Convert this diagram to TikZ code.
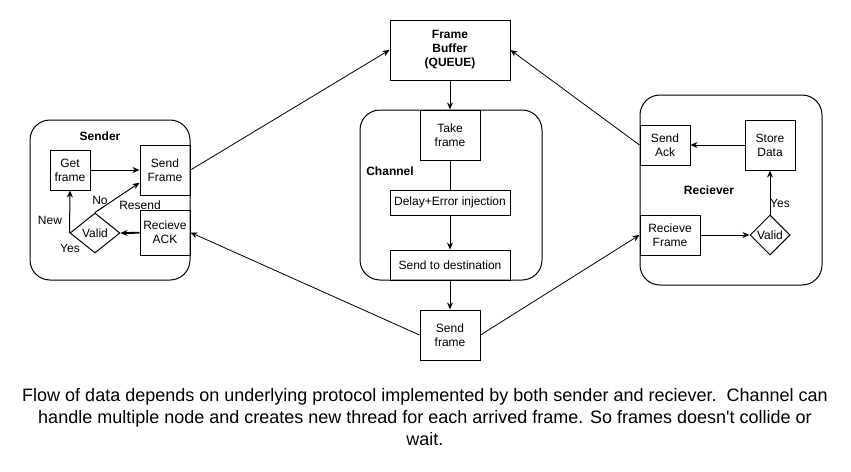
\documentclass[tikz,border=0pt]{standalone}
\usepackage{fontspec}
\setmainfont{Liberation Sans}
\usetikzlibrary{arrows.meta, calc, shapes.geometric}

\tikzset{
  box/.style={draw, line width=1pt, inner sep=0pt, align=center, font=\fontsize{12}{14}\selectfont},
  holder/.style={draw, line width=1pt, rounded corners=20pt, inner sep=0pt},
  decide/.style={draw, diamond, line width=1pt, inner sep=0pt, minimum width=#1, minimum height=40pt, font=\fontsize{12}{14}\selectfont},
  lbl/.style={inner sep=0pt, font=\fontsize{12}{14}\selectfont},
  head/.style={inner sep=0pt, align=center, font=\fontsize{12}{14}\selectfont\bfseries},
  flow/.style={line width=1pt, -{Stealth[length=7pt,width=6pt]}}
}

\begin{document}
\begin{tikzpicture}[x=1pt, y=-1pt]
  \useasboundingbox (0,0) rectangle (851,471);

  % containers
  \node [holder, minimum width=160pt, minimum height=160pt] (senderbox) at (110,200) {};
  \node [holder, minimum width=182pt, minimum height=170pt] (chanbox) at (451,195) {};
  \node [holder, minimum width=182pt, minimum height=190pt] (recvbox) at (731,190) {};

  \node [head] (sendertitle) at (100,136) {Sender};
  \node [head] (chantitle) at (390,171) {Channel};
  \node [head] (recvtitle) at (709,190) {Reciever};

  % sender side
  \node [box, minimum width=40pt, minimum height=40pt] (getframe) at (70,170) {Get\\frame};
  \node [box, minimum width=50pt, minimum height=50pt] (sendframe) at (165,170) {Send\\Frame};
  \node [box, minimum width=50pt, minimum height=45pt] (recvack) at (165,232.5) {Recieve\\ACK};
  \node [decide=50pt] (svalid) at (95,233) {Valid};

  % buffer and channel
  \node [box, minimum width=120pt, minimum height=60pt, font=\fontsize{12}{14}\selectfont\bfseries] (buffer) at (450,50) {Frame\\Buffer\\(QUEUE)};
  \node [box, minimum width=60pt, minimum height=50pt] (takeframe) at (450,135) {Take\\frame};
  \node [box, minimum width=120pt, minimum height=25pt] (delay) at (450,202.5) {Delay+Error injection};
  \node [box, minimum width=120pt, minimum height=30pt] (dest) at (450,265) {Send to destination};
  \node [box, minimum width=60pt, minimum height=50pt] (sendout) at (450,335) {Send\\frame};

  % receiver side
  \node [box, minimum width=50pt, minimum height=40pt] (sendack) at (665,145) {Send\\Ack};
  \node [box, minimum width=50pt, minimum height=50pt] (store) at (770,145) {Store\\Data};
  \node [box, minimum width=60pt, minimum height=40pt] (recvframe) at (670,235) {Recieve\\Frame};
  \node [decide=40pt] (rvalid) at (770,235) {Valid};

  % edge labels
  \node [lbl] (nolbl) at (100,200) {No};
  \node [lbl] (resendlbl) at (140,205) {Resend};
  \node [lbl] (newlbl) at (50,220) {New};
  \node [lbl] (syeslbl) at (70,248) {Yes};
  \node [lbl] (ryeslbl) at (780,203) {Yes};

  % sender arrows
  \draw [flow] (getframe) -- (sendframe);
  \draw [flow] (svalid.west) -- (getframe.south);
  \draw [flow] (svalid.north) -- ($(sendframe.south west)!0.25!(sendframe.north west)$);
  \draw [flow, line width=1.8pt] (recvack) -- (svalid.east);

  % channel arrows
  \draw [flow] (buffer) -- (takeframe);
  \draw [line width=1pt] (takeframe) -- (delay);
  \draw [flow] (delay) -- (dest);
  \draw [flow] (dest) -- (sendout);

  % receiver arrows
  \draw [flow] (store) -- (sendack);
  \draw [flow] (recvframe) -- (rvalid.west);
  \draw [flow] (rvalid.north) -- (store);

  % between the parts
  \draw [flow, line width=0.8pt] (sendframe.east) -- (buffer.west);
  \draw [flow, line width=0.8pt] (sendack.west) -- (buffer.east);
  \draw [flow, line width=0.8pt] (sendout.west) -- (recvack.east);
  \draw [flow, line width=0.8pt] (sendout.east) -- (recvframe.west);

  % caption
  \node [inner sep=0pt, align=center, font=\fontsize{18}{22}\selectfont] (caption) at (425,417)
    {Flow of data depends on underlying protocol implemented by both sender and reciever.\ \ Channel can\\
     handle multiple node and creates new thread for each arrived frame. So frames doesn\textquotesingle t collide or\\
     wait.};
\end{tikzpicture}
\end{document}
